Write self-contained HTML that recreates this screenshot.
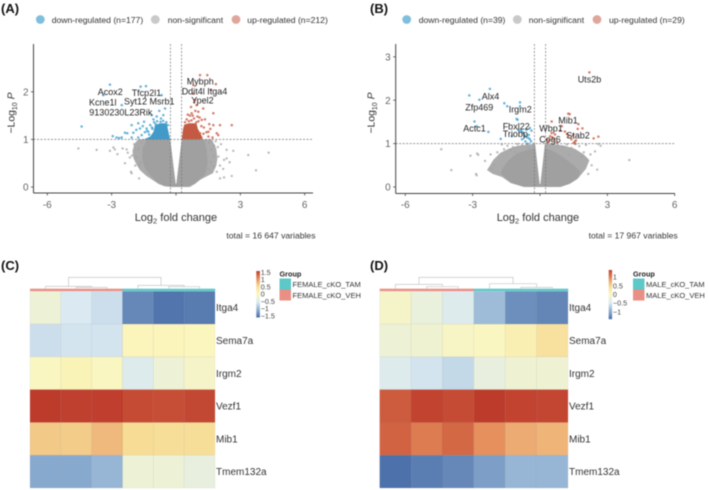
<!DOCTYPE html>
<html lang="en">
<head>
<meta charset="utf-8">
<title>Volcano plots and heatmaps</title>
<style>
html,body{margin:0;padding:0;background:#fff;}
svg{display:block;filter:blur(0.45px);font-family:"Liberation Sans",sans-serif;}
</style>
</head>
<body>
<svg id="figure" width="709" height="490" viewBox="0 0 709 490" xmlns="http://www.w3.org/2000/svg"></svg>
<script>
// ---------- Panel A data (log2 fold change, -log10 P) ----------
const aDownX = [-3.08,-3.39,-1.65,-1.40,-0.67,-2.53,-4.40,-2.07,-1.76,-0.78,-0.51,-0.59,-1.13,-0.90,-1.49,-1.68,-1.99,-2.38,-2.27,-2.95,-2.77,-2.53,-2.07,-1.76,-1.37,-1.29,-1.60,-1.2,-1.05,-1.45,-1.85,-0.7,-1.1,-2.65,-1.55,-1.02,-0.88,-0.72,-0.6,-0.45,-0.38,-1.12,-0.95,-1.25,-1.35];
const aDownY = [2.15,1.93,2.11,2.12,1.93,1.72,1.27,1.30,1.34,1.60,1.65,1.51,1.51,1.48,1.37,1.23,1.14,1.14,1.13,1.07,1.04,1.04,1.04,1.04,1.23,1.16,1.09,1.30,1.42,1.15,1.20,1.44,1.22,1.03,1.28,1.36,1.38,1.37,1.39,1.36,1.3,1.25,1.32,1.1,1.18];
const aDownBlobX = [-1.5,-1.2,-1.05,-0.98,-0.75,-0.44,-0.33,-0.27];
const aDownBlobY = [1,1.06,1.16,1.3,1.34,1.34,1.12,1];
const aUpX = [1.12,1.46,1.86,0.81,1.63,0.81,0.89,0.96,0.73,1.04,1.27,1.74,2.05,2.60,1.55,1.74,1.20,1.51,1.90,1.97,1.51,1.12,0.65,0.9,1.35,1.1,0.7,1.0,0.85,1.6,1.3,1.7,0.42,0.5,0.6,0.72,0.84,0.95,1.05,0.55,0.78,1.18,1.28,1.42];
const aUpY = [2.35,2.35,2.16,2.14,2.04,1.96,1.83,1.72,1.55,1.58,1.65,1.55,1.30,1.30,1.32,1.30,1.41,1.16,1.13,1.09,1.06,1.13,1.50,1.60,1.42,1.46,1.68,1.48,1.78,1.22,1.25,1.04,1.36,1.42,1.38,1.4,1.44,1.36,1.38,1.52,1.5,1.28,1.12,1.15];
const aUpBlobX = [0.27,0.32,0.38,0.6,0.95,1.02,1.12,1.25,1.18];
const aUpBlobY = [1,1.2,1.31,1.34,1.34,1.22,1.14,1.03,1];
const aFringeX = [-1.77,-1.95,-2.03,-1.98,-1.85,-1.68,-1.4,-1.07,-0.8,-0.5,-0.05,0,0.05,0.65,0.9,1.12,1.45,1.72,1.88,1.93,1.88,1.68,0.27,0.02,-0.02,-0.27];
const aFringeY = [1,0.9,0.75,0.6,0.48,0.35,0.24,0.14,0.06,0.01,0,0,0,0,0.07,0.15,0.23,0.29,0.45,0.6,0.8,1,1,0.07,0.07,1];
const aCloudX = [-1.35,-1.55,-1.58,-1.48,-1.25,-0.95,-0.6,-0.2,-0.05,0,0.05,0.5,0.85,1.1,1.35,1.48,1.42,1.3,0.27,0.02,-0.02,-0.27];
const aCloudY = [1,0.82,0.62,0.42,0.27,0.13,0.03,0,0,0,0,0,0.07,0.15,0.26,0.5,0.8,1,1,0.07,0.07,1];
const aGrayX = [-4.55,-3.70,-2.92,-2.85,-3.08,-2.73,-2.49,-2.30,-2.38,-2.10,-2.07,-1.72,-2.25,-2.15,3.37,4.32,3.73,2.67,2.36,2.24,2.36,2.50,2.05,2.24,2.60,1.75,1.98,2.05,2.2,-1.95,-2.05,-1.9,1.95,2.1,1.9,1.85,-1.6,-1.75,-1.85,-1.5,-1.65,-1.7,1.55,1.65,1.75,1.62,1.78,1.5];
const aGrayY = [0.81,0.78,0.83,0.79,0.76,0.69,0.81,0.79,0.50,0.32,0.29,0.18,0.72,0.62,0.67,0.72,0.35,0.76,0.78,0.57,0.60,0.52,0.18,0.20,0.23,0.43,0.64,0.45,0.38,0.9,0.66,0.45,0.84,0.9,0.32,0.96,0.93,0.8,0.62,0.7,0.52,0.45,0.93,0.78,0.66,0.52,0.87,0.38];

// ---------- Panel B data ----------
const bDownX = [-2.23,-3.15,-2.70,-1.59,-1.46,-0.89,-0.89,-1.04,-2.92,-2.82,-2.30,-1.75,-1.26,-0.45,-0.97,-0.82,-0.67,-0.52,-0.85,-0.75,-0.70,-0.60,-0.50,-0.45,-0.65,-0.55,-0.40,-0.38,-0.80,-0.60,-1.0];
const bDownY = [2.26,2.11,2.01,1.93,1.86,1.95,1.86,1.57,1.51,1.40,1.27,1.11,1.17,1.36,1.32,1.28,1.17,1.13,1.30,1.25,1.20,1.15,1.20,1.10,1.05,1.00,1.05,1.30,1.10,1.32,1.55];
const bUpX = [2.20,1.26,1.32,0.52,1.71,1.68,1.89,0.97,1.11,2.60,2.39,1.56,0.52,0.45,0.67,0.60,0.30,1.26,1.48,1.50,1.60,0.35,0.75,0.9,1.4,1.55,0.55,0.4,1.2];
const bUpY = [2.64,1.69,1.68,1.51,1.45,1.34,1.35,1.40,1.28,1.16,1.12,1.05,1.24,1.17,1.21,1.09,1.09,1.17,1.19,1.02,1.07,1.02,1.02,1.30,1.10,1.0,1.15,1.08,1.22];
const bFringeX = [-2.36,-2.2,-2.09,-1.78,-1.4,-1.0,-0.45,-0.22,-0.02,0.02,0.22,0.7,1.1,1.55,1.95,2.2,2.05,1.7,1.35,0.9,0.1,-0.7,-1.3,-1.69,-2.1,-2.36];
const bFringeY = [0.39,0.52,0.62,0.78,0.88,0.95,0.98,1,0.07,0.07,1,0.98,0.95,0.88,0.75,0.62,0.42,0.2,0.08,0,0,0,0.09,0.23,0.3,0.39];
const bCloudX = [-1.65,-1.4,-1.0,-0.5,-0.22,-0.02,0.02,0.22,0.6,1.05,1.5,1.8,1.65,1.3,0.9,0.1,-0.7,-1.2,-1.55,-1.75];
const bCloudY = [0.45,0.62,0.78,0.86,0.9,0.07,0.07,0.9,0.82,0.68,0.5,0.35,0.18,0.07,0,0,0,0.08,0.2,0.32];
const bGrayX = [-4.4,-3.95,-3.1,-2.85,-2.75,-2.8,-2.82,-2.45,-2.2,-1.9,-1.7,-1.45,-1.2,-1.0,-0.8,-0.6,-1.6,-1.3,-2.05,-2.15,0.5,0.8,1.0,1.2,1.4,1.6,1.75,1.95,2.05,2.25,2.45,2.7,3.98,2.3,2.15,2.55,-0.5,-1.1,1.3,1.85,2.6];
const bGrayY = [0.87,0.39,0.72,0.3,0.74,0.77,0.27,0.6,0.75,0.8,0.98,0.95,0.92,0.99,0.96,0.99,0.87,0.85,0.5,0.42,0.98,0.96,0.93,0.98,0.9,0.99,0.94,0.8,0.97,0.75,0.82,0.95,0.62,0.5,0.3,0.4,0.9,0.8,0.75,0.7,0.99];

// ---------- Ticks ----------
const xTicks = [-6,-3,0,3,6];
const xTickLabels = [-6,-3,3,6];
const aYTicks = [0,1,2];
const bYTicks = [0,1,2,3];

// ---------- Heatmap data ----------
const genes = ["Itga4","Sema7a","Irgm2","Vezf1","Mib1","Tmem132a"];
const heatC = [
  [-0.22,-0.5,-0.6,-1.3,-1.45,-1.4],
  [-0.6,-0.55,-0.55,0.05,0.05,0.02],
  [-0.03,0.08,-0.03,-0.45,-0.22,-0.1],
  [1.5,1.47,1.48,1.4,1.38,1.42],
  [0.62,0.6,0.72,0.5,0.47,0.47],
  [-1.05,-1.05,-0.95,-0.22,-0.22,-0.3]
];
const heatD = [
  [-0.1,-0.28,-0.45,-0.9,-1.25,-1.32],
  [-0.22,-0.18,-0.06,-0.02,0.15,0.4],
  [-0.45,-0.55,-0.65,-0.3,-0.2,-0.2],
  [1.3,1.45,1.4,1.5,1.45,1.43],
  [1.25,1.1,1.22,0.97,0.8,0.75],
  [-1.48,-1.38,-1.3,-1.13,-0.95,-0.95]
];
const colorStops = [-1.5,-1,-0.5,0,0.5,1,1.5];
const colorRamp = ["#4a6ea8","#8fb0d2","#dbeaf2","#fbf7bf","#f7dc96","#e58b5a","#bd3b2b"];
const dendroHeightsC = [1.3,2.3,2,3.3,11.3];
const dendroHeightsD = [2,4.3,1.3,5,11.3];
const legendTicksC = [1.5,1,0.5,0,-0.5,-1,-1.5];
const legendTicksD = [1,0.5,0,-0.5,-1];

const svg = document.getElementById('figure');
const NS = 'http://www.w3.org/2000/svg';
function mk(tag, attrs, parent, txt){
  const el = document.createElementNS(NS, tag);
  for (const k in attrs) el.setAttribute(k, attrs[k]);
  if (txt !== undefined) el.textContent = txt;
  (parent || svg).appendChild(el);
  return el;
}
function tag(el, name){
  
  
  return el;
}
function txt(parent, x, y, s, size, fill, extra, name){
  const el = mk('text', Object.assign({x:x, y:y, 'font-size':size, fill:fill}, extra || {}), parent, s);
  return tag(el, name);
}

function drawPoints(g, xs, ys, sx, sy, r, color, op, name){
  xs.forEach(function(v, i){
    const c = mk('circle', {cx:sx(v), cy:sy(ys[i]), r:r, fill:color, 'fill-opacity':op}, g);
    tag(c, name);
  });
}
function drawBlob(g, xs, ys, sx, sy, color, name, op){
  const pts = xs.map(function(v, i){ return sx(v).toFixed(1) + ',' + sy(ys[i]).toFixed(1); }).join(' ');
  tag(mk('polygon', {points:pts, fill:color, 'fill-opacity':op === undefined ? 1 : op}, g), name);
}

function volcano(cfg){
  const g = tag(mk('g', {}), cfg.name);
  const sx = function(v){ return cfg.x0 + v * cfg.kx; };
  const sy = function(v){ return cfg.y0 - v * cfg.ky; };

  txt(g, cfg.panelX, 13, cfg.panel, 13, '#111', {'font-weight':'bold'}, 'panel-label');

  // legend
  const dots = [[cfg.legDots[0],'#7fbfdc'],[cfg.legDots[1],'#c9c9c9'],[cfg.legDots[2],'#dfa79c']];
  dots.forEach(function(d){
    tag(mk('circle', {cx:d[0], cy:19.5, r:4.4, fill:d[1]}, g), 'legend-dot');
  });
  cfg.legText.forEach(function(t, i){
    txt(g, cfg.legTextX[i], 23, t, 8.6, '#333', {}, 'legend-entry');
  });

  // marks
  drawBlob(g, cfg.fringeX, cfg.fringeY, sx, sy, '#a4a4a4', 'non-significant-fringe', 0.92);
  drawBlob(g, cfg.cloudX, cfg.cloudY, sx, sy, '#a0a0a0', 'non-significant-cloud');
  drawPoints(g, cfg.grayX, cfg.grayY, sx, sy, 1.2, '#a2a2a2', 0.75, 'non-significant-point');
  if (cfg.downBlobX) drawBlob(g, cfg.downBlobX, cfg.downBlobY, sx, sy, '#429ac9', 'down-regulated-cluster');
  if (cfg.upBlobX) drawBlob(g, cfg.upBlobX, cfg.upBlobY, sx, sy, '#c45a42', 'up-regulated-cluster');
  drawPoints(g, cfg.downX, cfg.downY, sx, sy, 1.25, '#4aa5d3', 0.85, 'down-regulated-point');
  drawPoints(g, cfg.upX, cfg.upY, sx, sy, 1.25, '#cb6550', 0.85, 'up-regulated-point');

  // thresholds
  tag(mk('line', {x1:cfg.axL, x2:cfg.axR, y1:sy(1), y2:sy(1), stroke:'#777', 'stroke-width':0.7, 'stroke-dasharray':'2 1.5'}, g), 'p-threshold-line');
  [-cfg.fc, cfg.fc].forEach(function(v){
    tag(mk('line', {x1:sx(v), x2:sx(v), y1:cfg.axT, y2:cfg.axB, stroke:'#777', 'stroke-width':0.7, 'stroke-dasharray':'2 1.5'}, g), 'fold-change-threshold-line');
  });

  // axes
  tag(mk('line', {x1:cfg.axL, x2:cfg.axL, y1:cfg.axT, y2:cfg.axB, stroke:'#444', 'stroke-width':1}, g), 'y-axis');
  tag(mk('line', {x1:cfg.axL, x2:cfg.axR, y1:cfg.axB, y2:cfg.axB, stroke:'#444', 'stroke-width':1}, g), 'x-axis');
  xTicks.forEach(function(v){
    tag(mk('line', {x1:sx(v), x2:sx(v), y1:cfg.axB, y2:cfg.axB + 2.5, stroke:'#444', 'stroke-width':0.8}, g), 'x-tick');
  });
  xTickLabels.forEach(function(v){
    txt(g, sx(v), 208, String(v), 10, '#666', {'text-anchor':'middle'}, 'x-tick-label');
  });
  cfg.yTicks.forEach(function(v){
    tag(mk('line', {x1:cfg.axL - 2.5, x2:cfg.axL, y1:sy(v), y2:sy(v), stroke:'#444', 'stroke-width':0.8}, g), 'y-tick');
    txt(g, cfg.axL - 5, sy(v) + 3.6, String(v), 10, '#666', {'text-anchor':'end'}, 'y-tick-label');
  });

  // axis titles
  const xt = txt(g, cfg.xTitleX, 221, '', 11, '#333', {}, 'x-axis-title');
  mk('tspan', {}, xt, 'Log');
  mk('tspan', {dy:2.5, 'font-size':7.5}, xt, '2');
  mk('tspan', {dy:-2.5}, xt, ' fold change');
  const yt = txt(g, 0, 0, '', 10.4, '#333', {'text-anchor':'middle', transform:'translate(' + cfg.yTitleX + ',113) rotate(-90)'}, 'y-axis-title');
  mk('tspan', {}, yt, '\u2212Log');
  mk('tspan', {dy:2.5, 'font-size':7}, yt, '10');
  mk('tspan', {dy:-2.5, 'font-style':'italic'}, yt, ' P');

  // gene labels
  cfg.labels.forEach(function(l){
    txt(g, l[1], l[2], l[0], 9, '#222', {}, 'gene-label');
  });

  txt(g, cfg.totalX, 238.7, cfg.total, 8.6, '#333', {'text-anchor':'end'}, 'total-variables-caption');
}

const aLabels = [["Acox2",97.7,95],["Kcne1l",89,105.5],["Tfcp2l1",131.7,96],["Syt12",124,104.7],["Msrb1",149.5,104.7],["9130230L23Rik",89.3,115.7],["Mybph",186.7,84.7],["Ddit4l",181.7,94.7],["Itga4",207.3,94.7],["Ypel2",191.3,103.7]];
const bLabels = [["Uts2b",577.7,82.7],["Alx4",481.7,99.3],["Zfp469",465.3,110.3],["Irgm2",508.7,112.7],["Actc1",463.3,131.3],["Fbxl22",502.7,129.7],["Triobp",502.7,137],["Wbp1",539.3,131.3],["Mib1",558.3,123.7],["Stab2",566.3,138.3],["Cog6",539.3,142.7]];

volcano({name:'volcano-plot-a', panel:'(A)', panelX:1, x0:176, kx:21.45, y0:187, ky:47.6, axL:33.5, axR:313, axT:44, axB:193, fc:0.26,
  legDots:[40.3,155.3,236], legTextX:[51.7,167.7,247.3], legText:['down-regulated (n=177)','non-significant','up-regulated (n=212)'],
  fringeX:aFringeX, fringeY:aFringeY, cloudX:aCloudX, cloudY:aCloudY, grayX:aGrayX, grayY:aGrayY, downX:aDownX, downY:aDownY, upX:aUpX, upY:aUpY,
  downBlobX:aDownBlobX, downBlobY:aDownBlobY, upBlobX:aUpBlobX, upBlobY:aUpBlobY,
  yTicks:aYTicks, xTitleX:134.7, yTitleX:14.5, labels:aLabels, totalX:315.5, total:'total = 16 647 variables'});

volcano({name:'volcano-plot-b', panel:'(B)', panelX:370, x0:540, kx:22.45, y0:187, ky:43.4, axL:395.7, axR:675, axT:44, axB:193.5, fc:0.25,
  legDots:[406.7,517.3,597], legTextX:[418.7,528.7,609], legText:['down-regulated (n=39)','non-significant','up-regulated (n=29)'],
  fringeX:bFringeX, fringeY:bFringeY, cloudX:bCloudX, cloudY:bCloudY, grayX:bGrayX, grayY:bGrayY, downX:bDownX, downY:bDownY, upX:bUpX, upY:bUpY,
  yTicks:bYTicks, xTitleX:496.7, yTitleX:374.5, labels:bLabels, totalX:677.7, total:'total = 17 967 variables'});

// ---------- Heatmaps ----------
function heatColor(v){
  const c = Math.max(colorStops[0], Math.min(colorStops[colorStops.length - 1], v));
  let i = 0;
  while (i < colorStops.length - 2 && c > colorStops[i + 1]) i++;
  const t = (c - colorStops[i]) / (colorStops[i + 1] - colorStops[i]);
  const a = colorRamp[i], b = colorRamp[i + 1];
  const ch = function(h, p){ return parseInt(h.substr(p, 2), 16); };
  const mix = [1,3,5].map(function(p){ return Math.round(ch(a, p) + (ch(b, p) - ch(a, p)) * t); });
  return 'rgb(' + mix.join(',') + ')';
}

function heatmap(cfg){
  const g = tag(mk('g', {}), cfg.name);
  const cw = (cfg.x1 - cfg.x0) / 6;
  const rh = (cfg.y1 - cfg.y0) / genes.length;
  txt(g, cfg.panelX, 270, cfg.panel, 13, '#111', {'font-weight':'bold'}, 'panel-label');

  cfg.values.forEach(function(row, r){
    row.forEach(function(v, c){
      const cell = mk('rect', {x:cfg.x0 + c * cw, y:cfg.y0 + r * rh, width:cw, height:rh, fill:heatColor(v), stroke:'#000', 'stroke-opacity':0.06, 'stroke-width':0.6}, g);
      tag(cell, 'heatmap-cell');
    });
    txt(g, cfg.x1 + 1, cfg.y0 + (r + 0.5) * rh + 3.5, genes[r], 10, '#333', {}, 'gene-row-label');
  });

  // annotation bar
  for (let c = 0; c < 6; c++){
    const bar = mk('rect', {x:cfg.x0 + c * cw, y:cfg.y0 - 2.6, width:cw + 0.2, height:2.4, fill:c < 3 ? '#e98f85' : '#5cc8c8'}, g);
    tag(bar, 'group-annotation-cell');
  }

  // dendrogram: tree is ((0,(1,2)),(3,(4,5)))
  const base = cfg.y0 - 2.6;
  const h = cfg.dendro;
  const cx = function(i){ return cfg.x0 + (i + 0.5) * cw; };
  function link(xa, ya, xb, yb, top){
    const d = 'M' + xa + ' ' + ya + 'V' + top + 'H' + xb + 'V' + yb;
    tag(mk('path', {d:d, fill:'none', stroke:'#c6c6c6', 'stroke-width':0.7}, g), 'dendrogram-link');
  }
  const y12 = base - h[0], y012 = base - h[1], y45 = base - h[2], y345 = base - h[3], yRoot = base - h[4];
  link(cx(1), base, cx(2), base, y12);
  const m12 = (cx(1) + cx(2)) / 2;
  link(cx(0), base, m12, y12, y012);
  const m012 = (cx(0) + m12) / 2;
  link(cx(4), base, cx(5), base, y45);
  const m45 = (cx(4) + cx(5)) / 2;
  link(cx(3), base, m45, y45, y345);
  const m345 = (cx(3) + m45) / 2;
  link(m012, y012, m345, y345, yRoot);

  // colour bar
  const bar = cfg.bar;
  const segs = 46;
  for (let i = 0; i < segs; i++){
    const v = cfg.domain - (i + 0.5) / segs * 2 * cfg.domain;
    const sh = (bar.y1 - bar.y0) / segs;
    tag(mk('rect', {x:bar.x, y:bar.y0 + i * sh, width:bar.w, height:sh + 0.2, fill:heatColor(v * 1.5 / cfg.domain)}, g), 'colorbar-segment');
  }
  const mid = (bar.y0 + bar.y1) / 2;
  const perUnit = (bar.y1 - bar.y0) / (2 * cfg.domain);
  cfg.legendTicks.forEach(function(v){
    txt(g, bar.x + bar.w + 0.8, mid - v * perUnit + 2.5, v < 0 ? '\u2212' + Math.abs(v) : String(v), 7.2, '#444', {}, 'colorbar-label');
  });

  // group legend
  txt(g, cfg.grp.x, 276.5, 'Group', 7.3, '#222', {'font-weight':'bold'}, 'group-legend-title');
  tag(mk('rect', {x:cfg.grp.x, y:278.5, width:11.5, height:11, fill:'#5cc8c8'}, g), 'group-legend-swatch-tam');
  tag(mk('rect', {x:cfg.grp.x, y:289.5, width:11.5, height:11, fill:'#e98f85'}, g), 'group-legend-swatch-veh');
  txt(g, cfg.grp.x + 13, 286.8, cfg.grp.a, 7.5, '#333', {}, 'group-legend-label');
  txt(g, cfg.grp.x + 13, 297.8, cfg.grp.b, 7.5, '#333', {}, 'group-legend-label');
}

heatmap({name:'heatmap-c', panel:'(C)', panelX:1, x0:30, x1:215, y0:291.3, y1:488, values:heatC, dendro:dendroHeightsC, domain:1.6,
  bar:{x:256.3, w:3.6, y0:271, y1:317.3}, legendTicks:legendTicksC,
  grp:{x:279.5, a:'FEMALE_cKO_TAM', b:'FEMALE_cKO_VEH'}});
heatmap({name:'heatmap-d', panel:'(D)', panelX:370, x0:379.7, x1:568, y0:291.3, y1:488, values:heatD, dendro:dendroHeightsD, domain:1.41,
  bar:{x:608.7, w:3.4, y0:270, y1:319}, legendTicks:legendTicksD,
  grp:{x:633, a:'MALE_cKO_TAM', b:'MALE_cKO_VEH'}});
</script>
</body>
</html>
